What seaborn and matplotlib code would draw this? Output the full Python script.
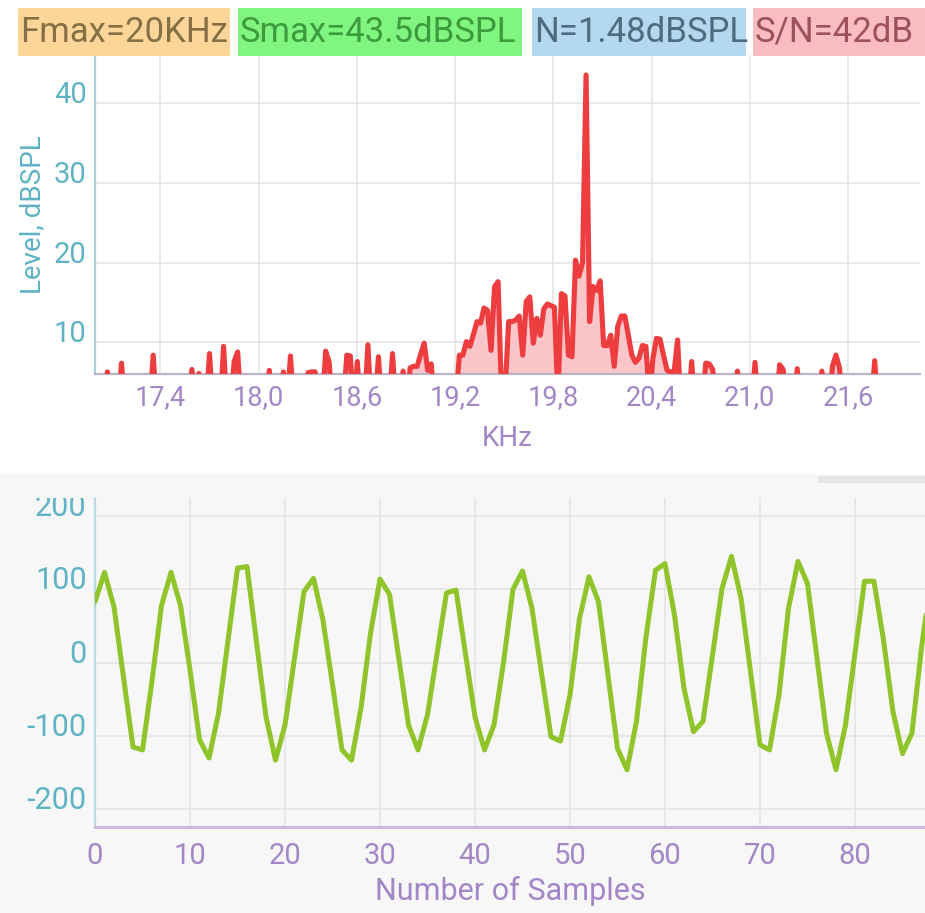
import numpy as np
import pandas as pd
import matplotlib
matplotlib.use("Agg")
import matplotlib.pyplot as plt
import seaborn as sns
from matplotlib.patches import Rectangle

# ---- readouts shown above the spectrum ----
HEADER_TEXTS = ["Fmax=20KHz", "Smax=43.5dBSPL", "N=1.48dBSPL", "S/N=42dB"]
HEADER_FILLS = ["#fcd699", "#80f580", "#b3d8ef", "#f9bcc1"]
HEADER_INKS = ["#857046", "#3d9a3d", "#4d6c80", "#9c5258"]
HEADER_SPANS = [(18, 230), (238, 522), (532, 746), (753, 925)]

# ---- spectrum: FFT bins 21.5 Hz apart, starting at 16.99 kHz ----
SPEC_F0_KHZ = 16.99
SPEC_BIN_KHZ = 0.0215
SPEC_N_BINS = 236
NOISE_FLOOR_DB = 1.5
SPEC_BINS = [4, 8, 17, 28, 30, 33, 37, 40, 41, 50, 54, 56, 61, 62, 63, 66, 67,
             72, 73, 75, 78, 81, 85, 88, 90, 91, 92, 93, 94, 95, 96,
             103, 104, 105, 106, 107, 108, 109, 110, 111, 112, 113, 114, 115,
             116, 117, 118, 119, 120, 121, 122, 123, 124, 125, 126, 127, 128,
             129, 130, 131, 132, 133, 134, 135, 136, 137, 138, 139, 140, 141,
             142, 143, 144, 145, 146, 147, 148, 149, 150, 151, 152, 153, 154,
             155, 156, 157, 158, 159, 160, 161, 162, 163, 164, 165, 166,
             170, 174, 175, 176, 183, 188, 195, 196, 200, 207, 210, 211, 212, 222]
SPEC_DB = [6.3, 7.4, 8.4, 6.6, 6.1, 8.6, 9.5, 7.6, 8.8, 6.5, 6.3, 8.3, 6.2, 6.3, 6.3, 8.9, 7.5,
           8.4, 8.3, 7.6, 9.7, 8.2, 8.6, 6.4, 6.8, 7.0, 7.0, 8.5, 9.9, 6.5, 7.3,
           3.0, 8.4, 8.4, 10.1, 9.5, 11.0, 12.6, 12.4, 14.3, 14.0, 9.0, 17.0, 17.6,
           3.0, 4.0, 12.6, 12.6, 12.8, 13.3, 8.4, 15.1, 15.7, 9.9, 13.0, 10.9, 14.2,
           14.8, 14.6, 14.4, 3.0, 16.1, 15.8, 8.4, 8.2, 20.3, 18.3, 20.0, 43.5, 12.6,
           17.0, 16.5, 17.7, 9.6, 9.6, 10.9, 7.0, 12.0, 13.3, 13.3, 10.9, 8.4, 7.5,
           8.0, 9.6, 9.5, 3.0, 8.0, 10.5, 10.4, 8.4, 6.5, 6.3, 6.3, 10.3,
           7.6, 7.4, 7.3, 6.6, 6.4, 7.5, 7.2, 6.6, 6.7, 6.4, 7.0, 8.4, 6.8, 7.7]

KHZ_TICKS = [17.4, 18.0, 18.6, 19.2, 19.8, 20.4, 21.0, 21.6]
KHZ_LABELS = ["17,4", "18,0", "18,6", "19,2", "19,8", "20,4", "21,0", "21,6"]
DB_TICKS = [10, 20, 30, 40]

# ---- raw time-domain samples ----
SAMPLES = [83, 123, 76, -20, -115, -119, -25, 78, 123, 78,
           -10, -105, -130, -69, 30, 129, 131, 28, -74, -133,
           -85, 6, 97, 115, 58, -30, -119, -133, -62, 40,
           114, 93, 4, -85, -119, -71, 12, 95, 99, 12,
           -74, -119, -85, 0, 100, 125, 74, -14, -101, -107,
           -44, 60, 117, 83, -17, -117, -146, -80, 35, 126,
           135, 65, -35, -94, -80, 10, 101, 145, 88, -12,
           -112, -119, -44, 74, 138, 108, 6, -96, -146, -85,
           13, 111, 111, 31, -67, -124, -96, 20, 115]
SAMPLE_TICKS = [0, 10, 20, 30, 40, 50, 60, 70, 80]
AMP_TICKS = [-200, -100, 0, 100, 200]

TEAL = "#5fb3c5"
PURPLE = "#a386c6"
RED = "#ee3d3f"
PINK = "#fbc6ca"
GREEN = "#8fc42a"
PANEL = "#f7f7f7"
GRID = "#e3e3e3"

sns.set_theme(style="white")
plt.rcParams["font.family"] = ["Roboto", "DejaVu Sans"]

W, H = 925, 913
fig = plt.figure(figsize=(W / 100, H / 100), dpi=100)
fig.patch.set_facecolor("white")


def px_axes(left, top, right, bottom):
    return fig.add_axes([left / W, 1 - bottom / H, (right - left) / W, (bottom - top) / H])


def px_rect(left, top, right, bottom, **kw):
    r = Rectangle((left / W, 1 - bottom / H), (right - left) / W, (bottom - top) / H,
                  transform=fig.transFigure, **kw)
    fig.add_artist(r)
    return r


# lower panel background and card edge
px_rect(0, 474, W, H, facecolor=PANEL, edgecolor="none", zorder=-5)
px_rect(818, 476, W, 483, facecolor="#e4e4e4", edgecolor="none", zorder=-4)

# header readout boxes
for text, fill, ink, (x0, x1) in zip(HEADER_TEXTS, HEADER_FILLS, HEADER_INKS, HEADER_SPANS):
    px_rect(x0, 8, x1, 56, facecolor=fill, edgecolor="none", zorder=1)
    fig.text((x0 + 2) / W, 1 - 32 / H, text, color=ink, fontsize=25,
             ha="left", va="center", zorder=2)

# ---- spectrum ----
levels = np.full(SPEC_N_BINS, NOISE_FLOOR_DB)
levels[SPEC_BINS] = SPEC_DB
spec = pd.DataFrame({"khz": SPEC_F0_KHZ + SPEC_BIN_KHZ * np.arange(SPEC_N_BINS),
                     "db": levels})

ax1 = px_axes(95, 55, 920, 374.3)
ax1.set_facecolor("white")
ax1.fill_between(spec["khz"], spec["db"], -20, color=PINK, linewidth=0, zorder=2)
sns.lineplot(data=spec, x="khz", y="db", ax=ax1, color=RED, linewidth=3.7, zorder=3)
ax1.set_xlim(17.0, 22.04)
ax1.set_ylim(6, 46)
ax1.set_xticks(KHZ_TICKS, KHZ_LABELS)
ax1.set_yticks(DB_TICKS, [str(t) for t in DB_TICKS], va="baseline")
ax1.grid(True, color=GRID, linewidth=1.1)
ax1.set_axisbelow(True)
ax1.tick_params(axis="x", length=0, pad=7, labelsize=19.5, labelcolor=PURPLE)
ax1.tick_params(axis="y", length=0, pad=6, labelsize=21, labelcolor=TEAL)
for side in ("top", "right"):
    ax1.spines[side].set_visible(False)
ax1.spines["left"].set_color("#a8d0d8")
ax1.spines["left"].set_linewidth(1.6)
ax1.spines["bottom"].set_color("#bab3c9")
ax1.spines["bottom"].set_linewidth(1.6)
ax1.set_xlabel("KHz", color=PURPLE, fontsize=20, labelpad=10)
ax1.set_ylabel("Level, dBSPL", color=TEAL, fontsize=20, labelpad=6)

# ---- time-domain samples ----
wave = pd.DataFrame({"n": np.arange(len(SAMPLES)), "amp": SAMPLES})
ax2 = px_axes(95, 498, 925, 826.7)
ax2.set_facecolor(PANEL)
sns.lineplot(data=wave, x="n", y="amp", ax=ax2, color=GREEN, linewidth=3.6, zorder=3)
ax2.set_xlim(0, 87.37)
ax2.set_ylim(-223.7, 224.5)
ax2.set_xticks(SAMPLE_TICKS, [str(t) for t in SAMPLE_TICKS])
ax2.set_yticks(AMP_TICKS, [str(t) for t in AMP_TICKS], va="baseline")
ax2.grid(True, color=GRID, linewidth=1.1)
ax2.set_axisbelow(True)
ax2.tick_params(axis="x", length=0, pad=11, labelsize=21, labelcolor=PURPLE)
ax2.tick_params(axis="y", length=0, pad=6, labelsize=22, labelcolor=TEAL)
for side in ("top", "right"):
    ax2.spines[side].set_visible(False)
ax2.spines["left"].set_color("#bcd9df")
ax2.spines["left"].set_linewidth(1.6)
ax2.spines["bottom"].set_color("#cdb9df")
ax2.spines["bottom"].set_linewidth(2.2)
ax2.set_xlabel("Number of Samples", color=PURPLE, fontsize=22, labelpad=4)
ax2.set_ylabel("")

# the lower panel clips anything drawn above its top edge
px_rect(0, 474, 95, 498, facecolor=PANEL, edgecolor="none", zorder=10)

fig.savefig("out.png", dpi=100)
